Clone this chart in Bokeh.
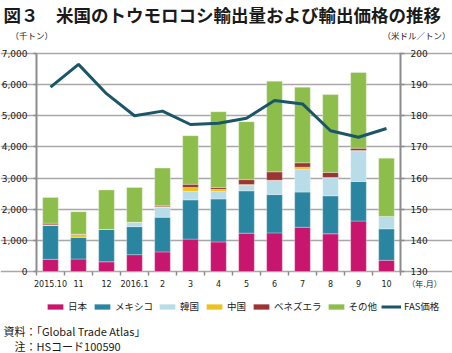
import numpy as np
from bokeh.plotting import figure
from bokeh.models import (ColumnDataSource, Range1d, LinearAxis, FixedTicker, Grid,
                          NumeralTickFormatter, Legend, LegendItem, Label)
from bokeh.embed import file_html
from bokeh.resources import INLINE

# ---- data ----
months = ["2015.10", "11", "12", "2016.1", "2", "3", "4", "5", "6", "7", "8", "9", "10"]
japan = [390, 400, 310, 540, 630, 1040, 950, 1230, 1240, 1420, 1210, 1620, 360]
mexico = [1090, 700, 1040, 900, 1110, 1260, 1380, 1360, 1230, 1130, 1220, 1270, 1010]
korea = [0, 0, 0, 140, 320, 270, 240, 190, 450, 740, 580, 985, 400]
china = [20, 90, 0, 0, 20, 130, 70, 10, 10, 60, 10, 10, 0]
venezuela = [50, 10, 0, 0, 30, 100, 60, 160, 270, 140, 160, 75, 0]
other = [830, 720, 1270, 1120, 1210, 1560, 2430, 1860, 2910, 2430, 2500, 2430, 1870]
fas_price = [189.2, 196.5, 187.1, 180.0, 181.5, 177.2, 177.6, 179.2, 184.9, 183.8, 175.2, 173.1, 175.9]

series_names = ["日本", "メキシコ", "韓国", "中国", "ベネズエラ", "その他"]
series_keys = ["japan", "mexico", "korea", "china", "venezuela", "other"]
colors = ["#C8166E", "#2A86A0", "#B9DCE9", "#EDC11E", "#9B3432", "#8DBE4B"]
line_color = "#1B5668"
line_name = "FAS価格"

title_text = "図３　米国のトウモロコシ輸出量および輸出価格の推移"
left_unit = "（千トン）"
right_unit = "（米ドル／トン）"
x_unit = "（年.月）"
source_text = "資料：「Global Trade Atlas」"
note_text = "注：HSコード100590"

left_ticks = list(range(0, 7001, 1000))
right_ticks = list(range(130, 201, 10))
left_lim = (0, 7000)
right_lim = (130, 200)

JP = "Noto Sans CJK JP"
NUM = "DejaVu Sans"
TXT = "#1a1a1a"
AX = "#8c8c8c"

# ---- layout (page pixels) ----
W, H = 452, 353
PL, PR, PT, PB = 36, 400, 53, 271          # plotting area inside the page
n = len(months)
step = (PR - PL) / n
x0 = -0.5 - PL / step
x_range = Range1d(x0, x0 + W / step)
k = (left_lim[1] - left_lim[0]) / (PB - PT)
y_range = Range1d(left_lim[0] - (H - PB) * k, left_lim[1] + PT * k)
kr = (right_lim[1] - right_lim[0]) / (PB - PT)
r_range = Range1d(right_lim[0] - (H - PB) * kr, right_lim[1] + PT * kr)

x = np.arange(n)
src = ColumnDataSource(dict(x=x, japan=japan, mexico=mexico, korea=korea, china=china,
                            venezuela=venezuela, other=other, price=fas_price))

p = figure(width=W, height=H, output_backend="svg", toolbar_location=None, title=None,
           x_range=x_range, y_range=y_range, x_axis_type=None, y_axis_type=None,
           min_border=0, min_border_left=0, min_border_right=0,
           min_border_top=0, min_border_bottom=0)
p.extra_y_ranges = {"price": r_range}
p.outline_line_color = None
p.background_fill_color = "white"
p.border_fill_color = "white"

# horizontal gridlines (the top one doubles as the upper border)
grid = Grid(dimension=1, ticker=FixedTicker(ticks=left_ticks), bounds=(-0.5, n - 0.5),
            grid_line_color="#a8a8a8", grid_line_width=1.5)
p.add_layout(grid)

bars = p.vbar_stack(series_keys, x="x", width=0.56, source=src, color=colors,
                    line_color="white", line_width=0.5, line_alpha=0.6)
ln = p.line("x", "price", source=src, y_range_name="price", line_color=line_color, line_width=3)

# bottom axis at value 0: month labels, boundary ticks, and the unit caption
unit_pos = n + 0.36
xa = LinearAxis(fixed_location=left_lim[0],
                ticker=FixedTicker(ticks=list(x) + [unit_pos],
                                   minor_ticks=list(np.arange(-0.5, n, 1.0))))
overrides = {int(i): m for i, m in zip(x, months)}
overrides[unit_pos] = x_unit
xa.major_label_overrides = overrides
xa.major_tick_out = 4
xa.major_tick_in = 0
xa.major_tick_line_color = None
xa.minor_tick_out = 4
xa.minor_tick_in = 0
xa.minor_tick_line_color = AX
xa.minor_tick_line_width = 1.5
xa.axis_line_color = None
xa.major_label_text_font = NUM + ", " + JP
xa.major_label_text_font_size = "8px"
xa.major_label_text_color = TXT
xa.major_label_standoff = 4
p.add_layout(xa, "below")

ya = LinearAxis(fixed_location=-0.5, bounds=left_lim, ticker=FixedTicker(ticks=left_ticks),
                formatter=NumeralTickFormatter(format="0,0"))
ya.minor_tick_line_color = None
ya.major_tick_out = 3
ya.major_tick_in = 0
ya.major_tick_line_color = AX
ya.major_tick_line_width = 1.5
ya.axis_line_color = AX
ya.axis_line_width = 2
ya.major_label_text_font = NUM
ya.major_label_text_font_size = "9px"
ya.major_label_text_color = TXT
ya.major_label_standoff = 6
p.add_layout(ya, "left")

ra = LinearAxis(y_range_name="price", fixed_location=n - 0.5, bounds=right_lim,
                ticker=FixedTicker(ticks=right_ticks))
ra.minor_tick_line_color = None
ra.major_tick_out = 4
ra.major_tick_in = 1
ra.major_tick_line_color = AX
ra.major_tick_line_width = 1.5
ra.axis_line_color = AX
ra.axis_line_width = 2
ra.major_label_text_font = NUM
ra.major_label_text_font_size = "9px"
ra.major_label_text_color = TXT
ra.major_label_standoff = 6
p.add_layout(ra, "right")

# legend
items = [LegendItem(label=nm, renderers=[r]) for nm, r in zip(series_names, bars)]
items.append(LegendItem(label=line_name, renderers=[ln]))
leg = Legend(items=items, orientation="horizontal", location=(45, H - 313),
             glyph_width=20, glyph_height=7, label_standoff=3, spacing=4,
             padding=0, margin=0, border_line_color=None, background_fill_alpha=0,
             label_text_font=JP, label_text_font_size="9.5px", label_height=12,
             label_text_color=TXT)
p.add_layout(leg)


def add_text(cx, cy, text, size, bold=False, align="left"):
    p.add_layout(Label(x=cx, y=H - cy, x_units="screen", y_units="screen",
                       text=text, text_font=JP, text_font_size=size,
                       text_font_style="bold" if bold else "normal",
                       text_color=TXT, text_align=align, text_baseline="middle"))


add_text(3, 14, title_text, "17.5px", bold=True)
add_text(10, 34, left_unit, "8.5px")
add_text(450, 34, right_unit, "8.5px", align="right")
add_text(3, 330, source_text, "11px")
add_text(14, 345, note_text, "11px")

open("out.html", "w").write(file_html(p, INLINE))
